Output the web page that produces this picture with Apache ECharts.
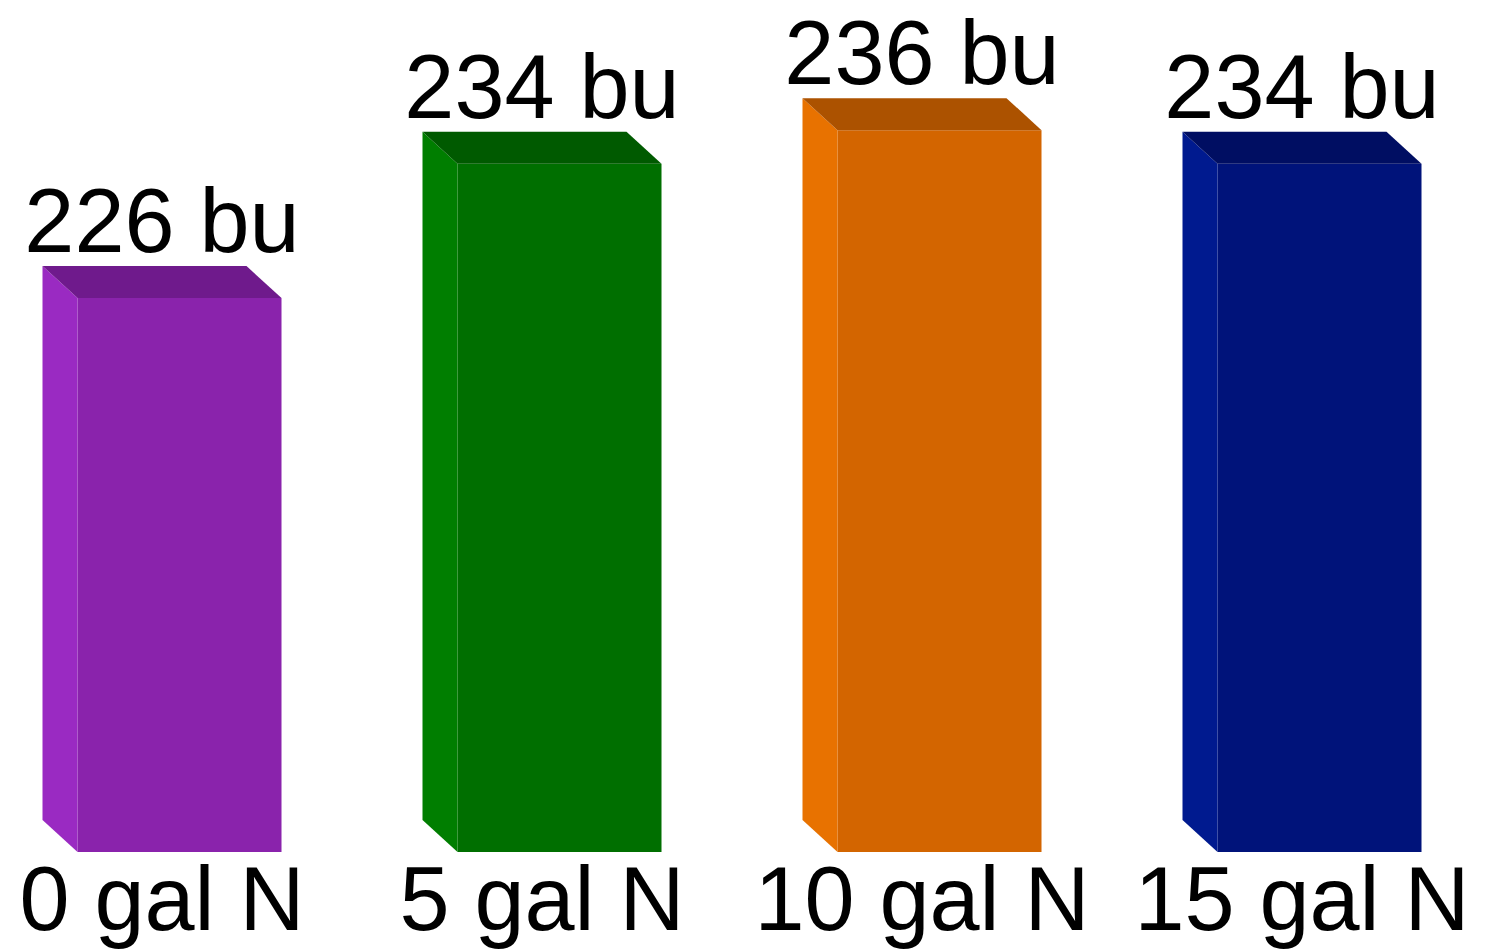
<!DOCTYPE html>
<html>
<head>
<meta charset="utf-8">
<script src="https://cdn.jsdelivr.net/npm/echarts@6/dist/echarts.min.js"></script>
<style>
html,body{margin:0;padding:0;background:#fff;}
#chart{width:1486px;height:950px;}
</style>
</head>
<body>
<div id="chart"></div>
<script>
const categories = ['0 gal N', '5 gal N', '10 gal N', '15 gal N'];
const yields = [226, 234, 236, 234];
const unit = 'bu';
const frontColors = ['#8A23AC', '#006F00', '#D36500', '#00137A'];
const sideColors  = ['#9A2AC2', '#007E00', '#E87200', '#001A8F'];
const topColors   = ['#6F1A8C', '#005A00', '#AC5200', '#000E62'];

const Y_MIN = 193, Y_MAX = 240;

const chart = echarts.init(document.getElementById('chart'), null, {renderer: 'svg'});

function renderItem(params, api) {
  const i = api.value(0);
  const v = api.value(1);
  const p = api.coord([i, v]);
  const b = api.coord([i, Y_MIN]);
  const band = api.size([1, 0])[0];
  const cx = p[0];
  const top = p[1];
  const bottom = b[1];
  const frontW = band * 204 / 380;
  const dx = band * 35 / 380;
  const dy = band * 32 / 380;
  const whole = frontW + dx;
  const L = cx - whole / 2;      // back-left x
  const FL = L + dx;             // front-left x
  const R = cx + whole / 2;      // front-right x
  return {
    type: 'group',
    children: [
      {
        type: 'rect',
        shape: {x: FL, y: top, width: R - FL, height: bottom - top},
        style: {fill: frontColors[i]}
      },
      {
        type: 'polygon',
        shape: {points: [[L, top - dy], [FL, top], [FL, bottom], [L, bottom - dy]]},
        style: {fill: sideColors[i]}
      },
      {
        type: 'polygon',
        shape: {points: [[L, top - dy], [R - dx, top - dy], [R, top], [FL, top]]},
        style: {fill: topColors[i]}
      },
      {
        type: 'text',
        style: {
          text: v + ' ' + unit,
          x: cx,
          y: top - dy - 45,
          textAlign: 'center',
          textVerticalAlign: 'middle',
          fontFamily: '"Liberation Sans", Arial, sans-serif',
          fontSize: 90,
          fill: '#000'
        }
      }
    ]
  };
}

chart.setOption({
  animation: false,
  grid: {left: 162, right: 184, top: 63, bottom: 98, containLabel: false},
  xAxis: {
    type: 'category',
    data: categories,
    boundaryGap: false,
    axisLine: {show: false},
    axisTick: {show: false},
    splitLine: {show: false},
    axisLabel: {
      color: '#000',
      fontSize: 90,
      fontFamily: '"Liberation Sans", Arial, sans-serif',
      margin: 2,
      interval: 0
    }
  },
  yAxis: {
    type: 'value',
    min: Y_MIN,
    max: Y_MAX,
    show: false
  },
  series: [{
    type: 'custom',
    renderItem: renderItem,
    clip: false,
    data: yields.map((v, i) => [i, v])
  }]
});
</script>
</body>
</html>
